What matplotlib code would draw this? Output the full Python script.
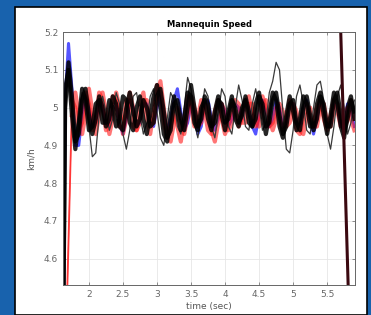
import numpy as np
import matplotlib
matplotlib.use('Agg')
import matplotlib.pyplot as plt
from matplotlib.patches import Rectangle

# Velocidade do manequim (km/h), amostras a cada 0.05 s a partir de t0
t0 = 1.60
dt = 0.05

black_1 = [3.90, 5.00, 5.12, 5.03, 4.91, 4.93, 5.02, 5.05, 4.98, 4.93, 4.97, 5.03, 5.00, 4.95, 4.97, 5.03,
           5.01, 4.95, 4.94, 5.00, 5.04, 4.99, 4.95, 4.97, 5.02, 5.00, 4.95, 4.96, 5.03, 5.05, 4.99, 4.92,
           4.94, 5.01, 5.02, 4.97, 4.94, 5.00, 5.06, 5.00, 4.95, 4.97, 5.03, 5.01, 4.95, 4.96, 5.02, 5.01,
           4.96, 4.97, 5.02, 5.00, 4.96, 4.98, 5.03, 4.99, 4.95, 4.97, 5.03, 5.01, 4.95, 4.96, 5.02, 5.04,
           4.98, 4.93, 4.95, 5.01, 5.02, 4.96, 4.94, 5.00, 5.03, 4.98, 4.94, 4.97, 5.03, 5.01, 4.95, 4.95,
           5.02, 5.04, 4.98, 4.93, 4.97, 5.02, 4.99]
black_2 = [3.90, 5.05, 5.10, 4.98, 4.89, 4.96, 5.05, 5.02, 4.94, 4.95, 5.01, 5.02, 4.96, 4.96, 5.02, 5.00,
           4.95, 4.97, 5.03, 5.02, 4.96, 4.94, 5.00, 5.03, 4.97, 4.93, 4.98, 5.03, 5.06, 5.00, 4.93, 4.91,
           4.98, 5.03, 4.99, 4.94, 4.97, 5.04, 5.03, 4.96, 4.94, 5.00, 5.02, 4.97, 4.94, 4.99, 5.03, 4.98,
           4.94, 4.99, 5.03, 4.97, 4.95, 5.00, 5.02, 4.96, 4.95, 5.01, 5.04, 4.98, 4.93, 4.98, 5.04, 5.02,
           4.95, 4.92, 4.98, 5.03, 4.99, 4.94, 4.97, 5.03, 5.01, 4.95, 4.95, 5.01, 5.04, 4.98, 4.93, 4.98,
           5.04, 5.01, 4.95, 4.92, 5.00, 5.03, 4.97]
black_3 = [3.90, 5.00, 5.10, 5.00, 4.92, 4.98, 5.04, 5.01, 4.95, 4.87, 4.88, 4.98, 5.03, 4.99, 4.94, 4.97,
           5.04, 5.01, 4.93, 4.89, 4.94, 5.03, 5.04, 4.98, 4.93, 4.96, 5.03, 5.05, 4.99, 4.92, 4.90, 4.97,
           5.04, 5.02, 4.95, 4.93, 5.00, 5.08, 5.05, 4.96, 4.92, 4.98, 5.05, 5.03, 4.95, 4.92, 4.98, 5.05,
           5.03, 4.95, 4.93, 5.00, 5.06, 5.02, 4.95, 4.94, 5.01, 5.05, 5.00, 4.94, 4.96, 5.04, 5.07, 5.12,
           5.10, 4.99, 4.89, 4.88, 4.94, 5.03, 5.06, 5.01, 4.94, 4.93, 5.00, 5.06, 5.07, 5.02, 4.93, 4.89,
           4.95, 5.03, 5.06, 5.00, 4.93, 4.96, 5.02]
red_1 = [np.nan, 4.33, 4.67, 5.02, 5.00, 4.94, 4.96, 5.04, 5.01, 4.94, 4.96, 5.04, 5.02, 4.94, 4.95, 5.03,
         5.02, 4.95, 4.95, 5.02, 5.02, 4.95, 4.94, 5.01, 5.04, 4.97, 4.93, 4.99, 5.06, 5.04, 4.96, 4.92,
         4.95, 4.99, 4.95, 4.91, 4.97, 5.03, 5.00, 4.95, 4.97, 5.02, 4.99, 4.94, 4.93, 4.99, 5.02, 4.97,
         4.93, 4.96, 5.01, 4.99, 4.95, 4.97, 5.02, 5.03, 4.98, 4.95, 4.98, 5.03, 5.00, 4.95, 4.96, 5.00,
         4.98, 4.94, 4.97, 5.02, 4.99, 4.94, 4.93, 4.98, 5.01, 4.96, 4.95, 5.00, 5.02, 4.97, 4.94, 4.98,
         5.02, 4.99, 4.95, 4.96, 5.00, 4.97, 4.94]
red_2 = [np.nan, 4.28, 4.62, 4.98, 5.04, 4.98, 4.93, 4.98, 5.05, 4.99, 4.93, 4.98, 5.04, 4.99, 4.93, 4.97,
         5.04, 5.00, 4.93, 4.97, 5.04, 5.00, 4.94, 4.96, 5.02, 5.02, 4.96, 4.96, 5.03, 5.07, 5.00, 4.93,
         4.91, 4.96, 5.00, 4.96, 4.93, 4.98, 5.03, 5.00, 4.95, 4.96, 5.01, 5.00, 4.94, 4.91, 4.96, 5.01,
         4.99, 4.94, 4.96, 5.02, 5.01, 4.96, 4.96, 5.01, 5.01, 4.96, 4.95, 5.00, 5.02, 4.97, 4.94, 4.97,
         5.01, 4.99, 4.95, 4.96, 5.01, 4.99, 4.94, 4.93, 4.98, 5.00, 4.95, 4.95, 5.00, 5.01, 4.96, 4.95,
         4.99, 5.01, 4.97, 4.94, 4.97, 5.02, 4.97]
blue_1 = [3.90, 5.02, 5.17, 5.05, 4.90, 4.90, 4.98, 5.03, 5.00, 4.95, 4.96, 5.01, 5.01, 4.96, 4.95, 5.00,
          5.01, 4.96, 4.93, 4.97, 5.02, 5.00, 4.95, 4.96, 5.01, 5.01, 4.96, 4.95, 5.00, 5.03, 4.98, 4.94,
          4.97, 5.02, 5.05, 4.99, 4.94, 4.96, 5.01, 4.99, 4.93, 4.95, 5.01, 5.02, 4.97, 4.94, 4.97, 5.01,
          4.99, 4.95, 4.97, 5.01, 5.00, 4.97, 5.02, 5.00, 4.95, 4.93, 4.98, 5.02, 4.99, 4.95, 4.97, 5.02,
          5.00, 4.95, 4.96, 5.01, 5.01, 4.96, 4.95, 5.00, 5.02, 4.97, 4.93, 4.97, 5.02, 5.00, 4.95, 4.96,
          5.01, 5.00, 4.95, 4.96, 5.01, 4.99, 4.95]

# queda no fim do ensaio
drop_t = [5.69, 5.82]
drop_v = [5.26, 4.46]


def tempo(v):
    return t0 + dt * np.arange(len(v))


fig = plt.figure(figsize=(3.71, 3.15), dpi=100, facecolor='#1862ad')
fig.patches.append(Rectangle((15 / 371, 0), 352 / 371, 308 / 315, transform=fig.transFigure,
                             facecolor='white', edgecolor='black', linewidth=1.2, zorder=-10))

ax = fig.add_axes([0.170, 0.095, 0.787, 0.803])
ax.set_zorder(5)

ax.plot(tempo(blue_1), blue_1, color='#2a2aff', lw=2.2, alpha=0.8)
for s in (red_1, red_2):
    t = tempo(s)
    # subida inicial fina, depois a faixa grossa
    ax.plot(t[:4], s[:4], color='#ff3030', lw=1.0, alpha=0.9)
    ax.plot(t[3:], s[3:], color='#ff1a1a', lw=3.0, alpha=0.6)
ax.plot(tempo(black_3), black_3, color='#3a3a3a', lw=0.9)
for s in (black_1, black_2):
    ax.plot(tempo(s), s, color='black', lw=3.0, alpha=0.85)
ax.plot(drop_t, drop_v, color='#3a0810', lw=2.2)

ax.set_xlim(1.62, 5.91)
ax.set_ylim(4.53, 5.2)
ax.set_xticks([2, 2.5, 3, 3.5, 4, 4.5, 5, 5.5])
ax.set_xticklabels(['2', '2.5', '3', '3.5', '4', '4.5', '5', '5.5'])
ax.set_yticks([4.6, 4.7, 4.8, 4.9, 5.0, 5.1, 5.2])
ax.set_yticklabels(['4.6', '4.7', '4.8', '4.9', '5', '5.1', '5.2'])
ax.tick_params(direction='in', length=2, width=0.5, labelsize=6.5, colors='#666666',
               top=True, right=True)
ax.grid(True, color='#e6e6e6', lw=0.6)
for sp in ax.spines.values():
    sp.set_color('#666666')
    sp.set_linewidth(0.7)

ax.set_title('Mannequin Speed', fontsize=6, fontweight='bold', pad=4)
ax.set_xlabel('time (sec)', fontsize=6.5, color='#555555', labelpad=2)
ax.set_ylabel('km/h', fontsize=6.5, color='#555555', labelpad=6)

fig.savefig('out.png', dpi=100, facecolor=fig.get_facecolor())
